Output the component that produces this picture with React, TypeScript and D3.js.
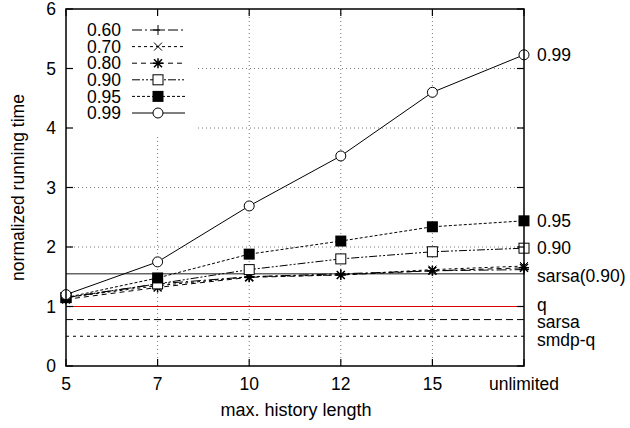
import React from "react";
import * as d3 from "d3";

const categories = ["5", "7", "10", "12", "15", "unlimited"];
const yTicks = [0, 1, 2, 3, 4, 5, 6];
const seriesNames = ["0.60", "0.70", "0.80", "0.90", "0.95", "0.99"];
const s060 = [1.15, 1.38, 1.5, 1.55, 1.6, 1.62];
const s070 = [1.15, 1.35, 1.5, 1.53, 1.62, 1.68];
const s080 = [1.12, 1.32, 1.49, 1.53, 1.6, 1.65];
const s090 = [1.15, 1.38, 1.62, 1.8, 1.92, 1.98];
const s095 = [1.15, 1.48, 1.88, 2.1, 2.34, 2.44];
const s099 = [1.2, 1.75, 2.69, 3.53, 4.6, 5.23];
const refNames = ["sarsa(0.90)", "q", "sarsa", "smdp-q"];
const refValues = [1.55, 1.0, 0.78, 0.5];

const seriesValues = [s060, s070, s080, s090, s095, s099];
const seriesDash = ["10,3,2,3", "3,3", "5,4", "8,2,2,2,2,2", "3,2", ""];
const markers = ["plus", "cross", "star", "square", "filled", "circle"];
const refColors = ["#666", "#d00", "#000", "#000"];
const refDash = ["", "", "7,4", "3,4"];

const W = 630, H = 428;
const L = 66, R = 524, T = 9, B = 366;
const FONT = "'Liberation Sans', Arial, Helvetica, sans-serif";
const FS = 17.5;

function Marker({ type, x, y }: { type: string; x: number; y: number }) {
  const s = 5;
  const st = { stroke: "#000", strokeWidth: 1, fill: "none" };
  if (type === "plus")
    return <path d={`M${x - s},${y}H${x + s}M${x},${y - s}V${y + s}`} {...st} />;
  if (type === "cross")
    return <path d={`M${x - 4},${y - 4}L${x + 4},${y + 4}M${x - 4},${y + 4}L${x + 4},${y - 4}`} {...st} />;
  if (type === "star")
    return (
      <path
        d={`M${x - s},${y}H${x + s}M${x},${y - s}V${y + s}M${x - 4},${y - 4}L${x + 4},${y + 4}M${x - 4},${y + 4}L${x + 4},${y - 4}`}
        {...st}
        strokeWidth={1.5}
      />
    );
  if (type === "square")
    return <rect x={x - 5} y={y - 5} width={10} height={10} fill="#fff" stroke="#000" strokeWidth={1} />;
  if (type === "filled")
    return <rect x={x - 5.5} y={y - 5.5} width={11} height={11} fill="#000" />;
  return <circle cx={x} cy={y} r={5} fill="#fff" stroke="#000" strokeWidth={1} />;
}

export default function App() {
  const x = d3.scalePoint<string>().domain(categories).range([L, R]);
  const y = d3.scaleLinear().domain([0, 6]).range([B, T]);
  const line = d3
    .line<number>()
    .x((_, i) => x(categories[i])!)
    .y((d) => y(d));

  return (
    <svg
      width={W}
      height={H}
      style={{ position: "absolute", left: 0, top: 0, background: "#fff" }}
      fontFamily={FONT}
    >
      <rect width={W} height={H} fill="#fff" />
      {yTicks.slice(1, -1).map((t) => (
        <line key={"gy" + t} x1={L} x2={R} y1={y(t)} y2={y(t)} stroke="#777" strokeWidth={1} strokeDasharray="1,3" />
      ))}
      {categories.slice(1, -1).map((c) => (
        <line key={"gx" + c} x1={x(c)} x2={x(c)} y1={T} y2={B} stroke="#777" strokeWidth={1} strokeDasharray="1,3" />
      ))}
      {refValues.map((v, i) => (
        <line
          key={"r" + i}
          x1={L}
          x2={R}
          y1={y(v)}
          y2={y(v)}
          stroke={refColors[i]}
          strokeWidth={i === 0 ? 1.5 : 1}
          strokeDasharray={refDash[i]}
        />
      ))}
      {seriesValues.map((vals, i) => (
        <g key={"s" + i}>
          <path d={line(vals)!} fill="none" stroke="#000" strokeWidth={1} strokeDasharray={seriesDash[i]} />
          {vals.map((v, j) => (
            <Marker key={j} type={markers[i]} x={x(categories[j])!} y={y(v)} />
          ))}
        </g>
      ))}
      <rect x={L + 1} y={T + 1} width={128} height={125} fill="#fff" />
      {seriesNames.map((n, i) => {
        const ly = 30 + i * 16.6;
        return (
          <g key={"l" + i}>
            <text x={121} y={ly} dy="0.35em" textAnchor="end" fontSize={FS}>
              {n}
            </text>
            <line x1={132} x2={185} y1={ly} y2={ly} stroke="#000" strokeWidth={1} strokeDasharray={seriesDash[i]} />
            <Marker type={markers[i]} x={158} y={ly} />
          </g>
        );
      })}
      <rect x={L} y={T} width={R - L} height={B - T} fill="none" stroke="#000" strokeWidth={1.5} />
      {yTicks.map((t) => (
        <g key={"ty" + t}>
          <line x1={L} x2={L + 7} y1={y(t)} y2={y(t)} stroke="#000" strokeWidth={1.2} />
          <line x1={R} x2={R - 7} y1={y(t)} y2={y(t)} stroke="#000" strokeWidth={1.2} />
          <text x={L - 10} y={y(t)} dy="0.35em" textAnchor="end" fontSize={FS}>
            {t}
          </text>
        </g>
      ))}
      {categories.map((c) => (
        <g key={"tx" + c}>
          <line x1={x(c)} x2={x(c)} y1={B} y2={B - 7} stroke="#000" strokeWidth={1.2} />
          <line x1={x(c)} x2={x(c)} y1={T} y2={T + 7} stroke="#000" strokeWidth={1.2} />
          <text x={x(c)} y={B + 18} dy="0.35em" textAnchor="middle" fontSize={FS}>
            {c}
          </text>
        </g>
      ))}
      <text x={537} y={y(s099[5])} dy="0.35em" fontSize={FS}>0.99</text>
      <text x={537} y={y(s095[5])} dy="0.35em" fontSize={FS}>0.95</text>
      <text x={537} y={y(s090[5])} dy="0.35em" fontSize={FS}>0.90</text>
      {refNames.map((n, i) => (
        <text key={"rn" + i} x={537} y={y(refValues[i]) + (i === 0 ? 2 : i === 1 ? -2 : i === 2 ? 2 : 4)} dy="0.35em" fontSize={FS}>
          {n}
        </text>
      ))}
      <text x={(L + R) / 2 + 1} y={410} dy="0.35em" textAnchor="middle" fontSize={18}>
        max. history length
      </text>
      <text
        transform={`translate(18,${(T + B) / 2}) rotate(-90)`}
        dy="0.35em"
        textAnchor="middle"
        fontSize={FS}
      >
        normalized running time
      </text>
    </svg>
  );
}
